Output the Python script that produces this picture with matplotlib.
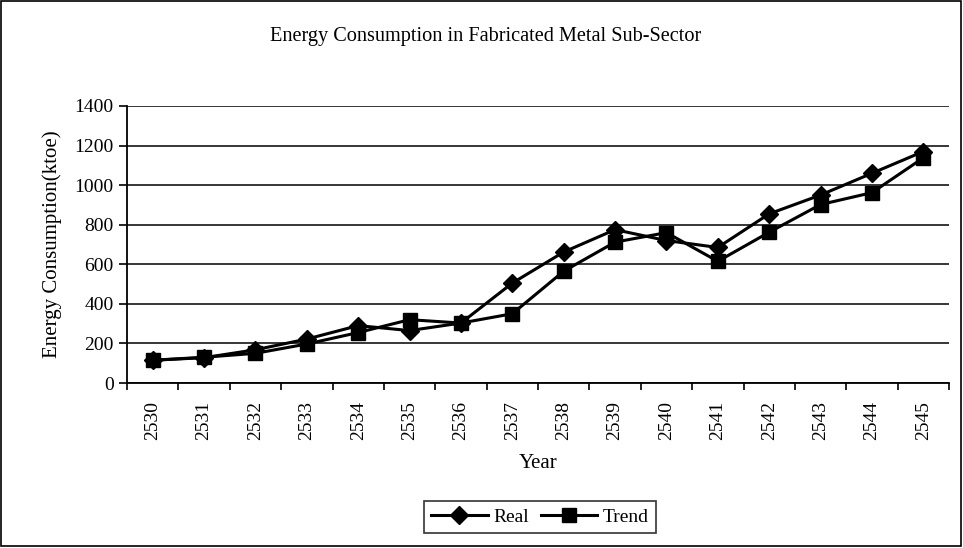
import matplotlib
matplotlib.use("Agg")
import matplotlib.pyplot as plt
from matplotlib.patches import Rectangle
import numpy as np

years = ["2530", "2531", "2532", "2533", "2534", "2535", "2536", "2537",
         "2538", "2539", "2540", "2541", "2542", "2543", "2544", "2545"]
real = [115, 128, 168, 222, 290, 265, 303, 505, 662, 775, 720, 685, 855, 950, 1060, 1170]
trend = [115, 130, 150, 197, 255, 320, 303, 350, 565, 712, 760, 615, 762, 902, 962, 1138]
yticks = [0, 200, 400, 600, 800, 1000, 1200, 1400]

plt.rcParams['font.family'] = ['Liberation Serif', 'DejaVu Serif']

fig = plt.figure(figsize=(9.63, 5.48), dpi=100)
ax = fig.add_axes([127/963, 1-383/548, (949-127)/963, (383-106)/548])

x = np.arange(len(years))
ax.plot(x, real, color='black', lw=2.2, marker='D', ms=9, label='Real')
ax.plot(x, trend, color='black', lw=2.2, marker='s', ms=10, label='Trend')

ax.set_xlim(-0.5, len(years) - 0.5)
ax.set_ylim(0, 1400)
ax.set_yticks(yticks)
ax.set_xticks(x)
ax.set_xticklabels(years, rotation=90, fontsize=14)
ax.tick_params(axis='x', which='major', length=0, pad=13)
ax.set_xticks(np.arange(-0.5, len(years)), minor=True)
ax.tick_params(axis='x', which='minor', length=5, width=1.2, direction='out')
ax.tick_params(axis='y', labelsize=14, length=6, width=1.2)
ax.yaxis.grid(True, color='black', lw=1.1)
ax.set_axisbelow(True)
for s in ['top', 'right']:
    ax.spines[s].set_visible(False)
for s in ['left', 'bottom']:
    ax.spines[s].set_linewidth(1.3)

ax.set_xlabel('Year', fontsize=15, labelpad=10)
ax.set_ylabel('Energy Consumption(ktoe)', fontsize=15, labelpad=9)
fig.text(486/963, 1-37/548, 'Energy Consumption in Fabricated Metal Sub-Sector',
         ha='center', va='center', fontsize=14.6)

leg = fig.legend(loc='center', bbox_to_anchor=(540/963, 1-517/548), ncol=2,
                 fontsize=14, frameon=True, fancybox=False, edgecolor='black',
                 handlelength=2.9, handletextpad=0.3, columnspacing=0.6,
                 borderpad=0.35)
leg.get_frame().set_linewidth(1.2)

fig.patches.append(Rectangle((1/963, 2/548), 960/963, 545/548, transform=fig.transFigure,
                             fill=False, edgecolor='black', lw=1.2))

fig.savefig('out.png', dpi=100)
